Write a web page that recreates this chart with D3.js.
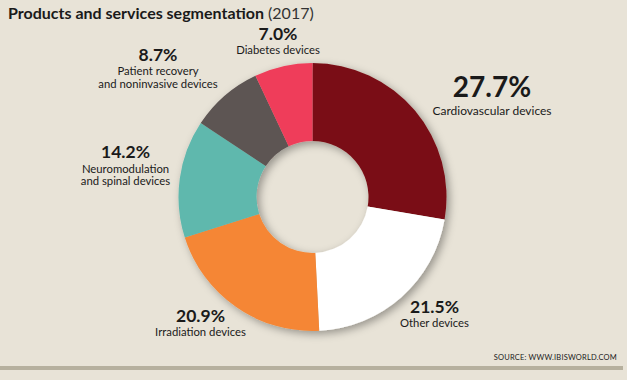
<!DOCTYPE html>
<html>
<head>
<meta charset="utf-8">
<script src="https://cdn.jsdelivr.net/npm/d3@7"></script>
<style>
html,body{margin:0;padding:0;background:#e8e3d7;}
svg{display:block;}
text{font-family:"Lato","Open Sans",sans-serif;fill:#1a1a1a;}
</style>
</head>
<body>
<svg id="chart" width="627" height="380"></svg>
<script>
const categories = ["Cardiovascular devices","Other devices","Irradiation devices","Neuromodulation and spinal devices","Patient recovery and noninvasive devices","Diabetes devices"];
const labelLines = [["Cardiovascular devices"],["Other devices"],["Irradiation devices"],["Neuromodulation","and spinal devices"],["Patient recovery","and noninvasive devices"],["Diabetes devices"]];
const values = [27.7, 21.5, 20.9, 14.2, 8.7, 7.0];
const colors = ["#7a1116","#ffffff","#f58634","#5fb8ad","#5d5452","#ef3e5a"];
const titleMain = "Products and services segmentation";
const titleYear = "(2017)";
const sourceText = "SOURCE: WWW.IBISWORLD.COM";

// label layout (pixel offsets from chart centre: percent baseline and sub-label offset), kept apart from data
const labelLayout = [
  {x:179.5, y:-100, sub:17.5, big:true},
  {x:122, y:116, sub:14},
  {x:-112, y:125, sub:14},
  {x:-187, y:-39, sub:14.5},
  {x:-154.5, y:-136, sub:14},
  {x:-34.5, y:-157, sub:14}
];

const svg = d3.select("#chart");
svg.append("rect").attr("width",627).attr("height",380).attr("fill","#e8e3d7");

const defs = svg.append("defs");
const f = defs.append("filter").attr("id","sh").attr("x","-20%").attr("y","-20%").attr("width","150%").attr("height","150%");
f.append("feDropShadow").attr("dx",3).attr("dy",3).attr("stdDeviation",4).attr("flood-color","#000").attr("flood-opacity",0.35);

// title
const t = svg.append("text").attr("x",8).attr("y",19).attr("font-size",16);
t.append("tspan").attr("font-weight",700).text(titleMain);
t.append("tspan").attr("font-weight",400).attr("fill","#333").text(" " + titleYear);

const cx = 312.5, cy = 197;
const g = svg.append("g").attr("transform",`translate(${cx},${cy})`);

const pie = d3.pie().sort(null).value(d=>d)(values);
const arc = d3.arc().innerRadius(56).outerRadius(134);

g.append("g").attr("filter","url(#sh)")
 .selectAll("path").data(pie).join("path")
 .attr("d",arc).attr("fill",(d,i)=>colors[i]);

const fmt = d3.format(".1f");
pie.forEach((d,i)=>{
  const L = labelLayout[i];
  const lg = g.append("g").attr("transform",`translate(${L.x},${L.y})`);
  lg.append("text").attr("text-anchor","middle").attr("y",0)
    .attr("font-weight",700).attr("font-size", L.big?28:17.5)
    .text(fmt(values[i]) + "%");
  labelLines[i].forEach((ln,j)=>{
    lg.append("text").attr("text-anchor","middle")
      .attr("y",L.sub + j*12.5)
      .attr("font-size",L.big?12:11.3).attr("fill","#161616")
      .text(ln);
  });
});

svg.append("text").attr("x",617).attr("y",360).attr("text-anchor","end")
  .attr("font-size",7.5).attr("fill","#555").attr("letter-spacing",0.2).text(sourceText);
svg.append("rect").attr("x",0).attr("y",366).attr("width",623).attr("height",4).attr("fill","#b6b09e");
</script>
</body>
</html>
